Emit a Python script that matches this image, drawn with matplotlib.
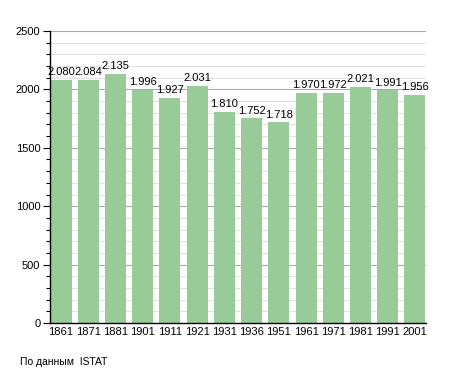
import matplotlib
matplotlib.use("Agg")
import matplotlib.pyplot as plt
from matplotlib.ticker import MultipleLocator

years = ["1861", "1871", "1881", "1901", "1911", "1921", "1931", "1936",
         "1951", "1961", "1971", "1981", "1991", "2001"]
population = [2080, 2084, 2135, 1996, 1927, 2031, 1810, 1752, 1718,
              1970, 1972, 2021, 1991, 1956]
labels = ["2.080", "2.084", "2.135", "1.996", "1.927", "2.031", "1.810",
          "1.752", "1.718", "1.970", "1.972", "2.021", "1.991", "1.956"]

plt.rcParams['font.family'] = ['Liberation Sans', 'DejaVu Sans']

fig = plt.figure(figsize=(4.55, 3.73), dpi=100)
W, H = 455, 373
ax = fig.add_axes([50 / W, 1 - 323 / H, (426 - 50) / W, (323 - 31) / H])

x = list(range(len(years)))
w = 0.77
ax.bar(x, population, width=w, color="#98cb98", zorder=3)
ax.set_xlim(-w / 2 - 0.02, len(years) - 1 + w / 2 + 0.02)
ax.set_ylim(0, 2500)

ax.yaxis.set_major_locator(MultipleLocator(500))
ax.yaxis.set_minor_locator(MultipleLocator(100))
ax.grid(axis='y', which='minor', color='#e2e2e2', linewidth=0.8, zorder=0)
ax.grid(axis='y', which='major', color='#aaaaaa', linewidth=0.8, zorder=1)

ax.set_xticks(x)
ax.set_xticklabels(years)
ax.tick_params(axis='x', length=0, pad=3, labelsize=8)
ax.tick_params(axis='y', which='major', length=5, width=0.8, labelsize=8, pad=2)
ax.tick_params(axis='y', which='minor', length=3, width=0.8)

for s in ['top', 'right']:
    ax.spines[s].set_visible(False)
ax.spines['left'].set_linewidth(1.0)
ax.spines['bottom'].set_linewidth(1.0)
ax.spines['left'].set_zorder(4)
ax.spines['bottom'].set_zorder(4)

for xi, v, lab in zip(x, population, labels):
    ax.annotate(lab, (xi, v), xytext=(0, 2), textcoords='offset points',
                ha='center', va='bottom', fontsize=8, zorder=5)

fig.text(20 / W, 1 - 362 / H, "По данным  ISTAT", fontsize=7.5, ha='left', va='center')

fig.savefig("out.png", dpi=100)
